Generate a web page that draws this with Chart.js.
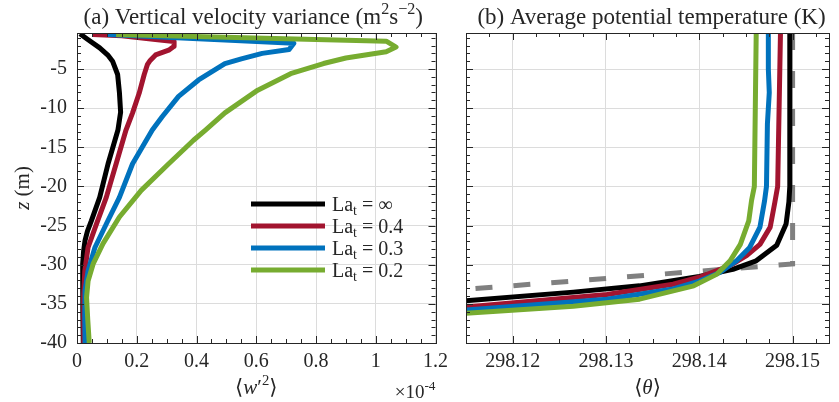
<!DOCTYPE html>
<html>
<head>
<meta charset="utf-8">
<script src="https://cdn.jsdelivr.net/npm/chart.js@4.4.1/dist/chart.umd.min.js"></script>
<style>
  body { margin: 0; background: #fff; width: 839px; height: 402px; overflow: hidden; position: relative; }
  canvas { position: absolute; top: 0; }
  #left { left: 0; }
  #right { left: 455px; }
</style>
</head>
<body>
<canvas id="left" width="455" height="402"></canvas>
<canvas id="right" width="384" height="402"></canvas>
<script>
// ---- data ----
const seriesLabels = ['\u221E', '0.4', '0.3', '0.2'];
const seriesColors = ['#000000', '#A2142F', '#0072BD', '#77AC30'];

const wTicks = [0, 0.2, 0.4, 0.6, 0.8, 1, 1.2];
const thetaTicks = [298.12, 298.13, 298.14, 298.15];
const zTicks = [-5, -10, -15, -20, -25, -30, -35, -40];

// (a) vertical velocity variance, units 1e-4
const zInfW = [-0.5, -1.2, -2.3, -3.3, -4.0, -5.7, -8.0, -10.5, -12.8, -17.1, -21.4, -24.4, -25.7, -26.9, -28.3, -29.9, -33, -36, -40];
const wInf  = [0.01, 0.035, 0.076, 0.105, 0.119, 0.136, 0.142, 0.146, 0.137, 0.104, 0.076, 0.048, 0.035, 0.027, 0.022, 0.019, 0.019, 0.02, 0.021];
const z04W = [-0.6, -0.75, -1.25, -1.5, -2.1, -2.6, -3.2, -3.9, -4.4, -5.7, -8.1, -10.6, -12.8, -17.1, -21.4, -24.8, -27.8, -30.8, -34, -37, -40];
const w04  = [0.053, 0.15, 0.27, 0.325, 0.325, 0.307, 0.263, 0.245, 0.236, 0.225, 0.208, 0.186, 0.164, 0.131, 0.098, 0.065, 0.037, 0.026, 0.022, 0.022, 0.023];
const z03W = [-0.6, -1.7, -2.5, -3.0, -3.7, -4.3, -6.4, -8.5, -11.1, -12.8, -17.1, -21.4, -24.8, -27.8, -30.8, -33.3, -36.5, -40];
const w03  = [0.104, 0.726, 0.71, 0.62, 0.55, 0.495, 0.407, 0.34, 0.285, 0.252, 0.186, 0.142, 0.098, 0.06, 0.037, 0.027, 0.026, 0.027];
const z02W = [-0.6, -1.45, -2.2, -2.8, -3.6, -4.3, -5.6, -7.7, -10.6, -12.8, -14.1, -17.1, -20.5, -23.9, -27.3, -29.9, -32.1, -34.2, -37, -40];
const w02  = [0.131, 1.035, 1.068, 1.035, 0.9, 0.825, 0.715, 0.605, 0.495, 0.43, 0.39, 0.307, 0.215, 0.142, 0.087, 0.054, 0.037, 0.032, 0.036, 0.041];

// (b) average potential temperature, K
const zInfT = [-0.4, -20, -22, -24.8, -27.5, -29.5, -30.6, -31.5, -32.7, -33.5, -34.6];
const tInf  = [298.1497, 298.1497, 298.1496, 298.1493, 298.1483, 298.1461, 298.1436, 298.1400, 298.1336, 298.1265, 298.1150];
const z04T = [-0.4, -20, -22, -25.2, -27.4, -28.8, -30.1, -31.6, -32.5, -33.8, -35.4];
const t04  = [298.1487, 298.1484, 298.1481, 298.1476, 298.1465, 298.1451, 298.1433, 298.1400, 298.1372, 298.1301, 298.1150];
const z03T = [-0.4, -5, -8, -12, -20, -21.8, -25.2, -27.8, -29.5, -31.0, -32.1, -33.1, -34.4, -35.8];
const t03  = [298.1474, 298.1474, 298.1475, 298.1473, 298.1472, 298.1470, 298.1465, 298.1454, 298.1440, 298.1422, 298.1400, 298.1372, 298.1301, 298.1150];
const z02T = [-0.4, -20, -21.8, -24.4, -27.4, -29.5, -31.2, -32.7, -34.4, -35.3, -36.2];
const t02  = [298.1461, 298.1459, 298.1456, 298.1453, 298.1444, 298.1433, 298.1419, 298.1394, 298.1336, 298.1265, 298.1150];
const zInit = [-0.4, -29.9, -33.1];
const tInit = [298.15, 298.15, 298.1155];

// ---- helpers ----
const SERIF = '"Liberation Serif", "DejaVu Serif", serif';
const INK = '#262626';

function pts(xs, zs) {
  return xs.map((x, i) => ({ x: x, y: zs[i] }));
}

function fontFor(style, size) {
  const s = (style === 'sup' || style === 'sub') ? size * 0.7 : size;
  return (style === 'i' ? 'italic ' : '') + s + 'px ' + SERIF;
}

// draws a run of text pieces, [text, style] with style '', 'i', 'sup' or 'sub'
function drawRich(ctx, parts, x, y, size, align) {
  ctx.save();
  ctx.textBaseline = 'alphabetic';
  ctx.textAlign = 'left';
  ctx.fillStyle = INK;
  let total = 0;
  const widths = parts.map(function(p) {
    ctx.font = fontFor(p[1], size);
    const w = ctx.measureText(p[0]).width;
    total += w;
    return w;
  });
  let cx = align === 'center' ? x - total / 2 : (align === 'right' ? x - total : x);
  parts.forEach(function(p, i) {
    ctx.font = fontFor(p[1], size);
    const dy = p[1] === 'sup' ? -0.42 * size : (p[1] === 'sub' ? 0.22 * size : 0);
    ctx.fillText(p[0], cx, y + dy);
    cx += widths[i];
  });
  ctx.restore();
}

function minorValues(min, max, step, majors) {
  const out = [];
  const start = Math.ceil(min / step - 1e-9);
  for (let k = start; k * step <= max + 1e-9; k++) {
    const v = k * step;
    if (!majors.some(m => Math.abs(m - v) < step * 1e-3)) out.push(v);
  }
  return out;
}

// frame, inward ticks, titles, labels and legend
const panelDecor = {
  id: 'panelDecor',
  afterDatasetsDraw(chart, args, opts) {
    const ctx = chart.ctx;
    const a = chart.chartArea;
    const xs = chart.scales.x, ys = chart.scales.y;
    ctx.save();
    ctx.strokeStyle = INK;
    ctx.lineWidth = 1;
    ctx.beginPath();
    function tickX(v, len) {
      const p = Math.round(xs.getPixelForValue(v)) + 0.5;
      ctx.moveTo(p, a.bottom); ctx.lineTo(p, a.bottom - len);
      ctx.moveTo(p, a.top); ctx.lineTo(p, a.top + len);
    }
    function tickY(v, len) {
      const p = Math.round(ys.getPixelForValue(v)) + 0.5;
      ctx.moveTo(a.left, p); ctx.lineTo(a.left + len, p);
      ctx.moveTo(a.right, p); ctx.lineTo(a.right - len, p);
    }
    opts.xMajor.forEach(v => tickX(v, 7));
    minorValues(xs.min, xs.max, opts.xMinor, opts.xMajor).forEach(v => tickX(v, 4));
    opts.yMajor.forEach(v => tickY(v, 7));
    minorValues(ys.min, ys.max, opts.yMinor, opts.yMajor).forEach(v => tickY(v, 4));
    ctx.stroke();
    ctx.strokeRect(Math.round(a.left) + 0.5, Math.round(a.top) + 0.5,
                   Math.round(a.right - a.left), Math.round(a.bottom - a.top));
    ctx.restore();

    const cx = (a.left + a.right) / 2;
    drawRich(ctx, opts.title, cx + opts.titleShift, 24, 23, 'center');
    drawRich(ctx, opts.xlabel, cx, 394, 21, 'center');

    if (opts.ylabel) {
      ctx.save();
      ctx.translate(29, (a.top + a.bottom) / 2);
      ctx.rotate(-Math.PI / 2);
      drawRich(ctx, [['z', 'i'], [' (m)', '']], 0, 0, 21, 'center');
      ctx.restore();
    }
    if (opts.exponent) {
      drawRich(ctx, [['\u00D710', ''], ['-4', 'sup']], a.right, 398, 19, 'right');
    }
    if (opts.legend) {
      seriesLabels.forEach(function(lab, i) {
        const y = 204 + i * 22;
        ctx.save();
        ctx.strokeStyle = seriesColors[i];
        ctx.lineWidth = 5;
        ctx.beginPath();
        ctx.moveTo(251, y); ctx.lineTo(325, y);
        ctx.stroke();
        ctx.restore();
        drawRich(ctx, [['La', ''], ['t', 'sub'], [' = ' + lab, '']], 332, y + 7, 20, 'left');
      });
    }
  }
};

function lineSet(data, color, order) {
  return {
    data: data,
    showLine: true,
    borderColor: color,
    borderWidth: 5,
    pointRadius: 0,
    tension: 0,
    borderJoinStyle: 'round',
    order: order
  };
}

function baseOptions(xMin, xMax, xTicks, yWidth, rightPad, fmt, showY, decor) {
  return {
    responsive: false,
    animation: false,
    layout: { padding: { top: 33, right: rightPad, left: 0, bottom: 0 } },
    plugins: { legend: { display: false }, tooltip: { enabled: false }, panelDecor: decor },
    scales: {
      x: {
        type: 'linear', min: xMin, max: xMax,
        afterBuildTicks: s => { s.ticks = xTicks.map(v => ({ value: v })); },
        afterFit: s => { s.height = 59; },
        grid: { color: '#dcdcdc', lineWidth: 1, drawTicks: false },
        border: { display: false },
        ticks: { padding: 7, color: INK, font: { family: SERIF, size: 20 }, maxRotation: 0, callback: fmt }
      },
      y: {
        type: 'linear', min: -40, max: -0.4,
        afterBuildTicks: s => { s.ticks = zTicks.map(v => ({ value: v })); },
        afterFit: s => { s.width = yWidth; },
        grid: { color: '#dcdcdc', lineWidth: 1, drawTicks: false },
        border: { display: false },
        ticks: { display: showY, padding: 10, color: INK, font: { family: SERIF, size: 20 } }
      }
    }
  };
}

new Chart(document.getElementById('left'), {
  type: 'scatter',
  data: {
    datasets: [
      lineSet(pts(wInf, zInfW), seriesColors[0], 3),
      lineSet(pts(w04, z04W), seriesColors[1], 2),
      lineSet(pts(w03, z03W), seriesColors[2], 1),
      lineSet(pts(w02, z02W), seriesColors[3], 0)
    ]
  },
  options: baseOptions(0, 1.2, wTicks, 77, 14, v => String(+v.toFixed(1)), true, {
    title: [['(a) Vertical velocity variance (m', ''], ['2', 'sup'], ['s', ''], ['\u22122', 'sup'], [')', '']],
    titleShift: -3,
    xlabel: [['\u27E8', ''], ['w', 'i'], ['\u2032', ''], ['2', 'sup'], ['\u27E9', '']],
    ylabel: true, exponent: true, legend: true,
    xMajor: wTicks, xMinor: 0.05, yMajor: zTicks, yMinor: 1
  }),
  plugins: [panelDecor]
});

const initLine = lineSet(pts(tInit, zInit), '#808080', 4);
initLine.borderDash = [17, 21];
initLine.borderJoinStyle = 'miter';

new Chart(document.getElementById('right'), {
  type: 'scatter',
  data: {
    datasets: [
      lineSet(pts(tInf, zInfT), seriesColors[0], 3),
      lineSet(pts(t04, z04T), seriesColors[1], 2),
      lineSet(pts(t03, z03T), seriesColors[2], 1),
      lineSet(pts(t02, z02T), seriesColors[3], 0),
      initLine
    ]
  },
  options: baseOptions(298.115, 298.1539, thetaTicks, 11, 10, v => v.toFixed(2), false, {
    title: [['(b) Average potential temperature (K)', '']],
    titleShift: 4,
    xlabel: [['\u27E8', ''], ['\u03B8', 'i'], ['\u27E9', '']],
    ylabel: false, exponent: false, legend: false,
    xMajor: thetaTicks, xMinor: 0.0025, yMajor: zTicks, yMinor: 1
  }),
  plugins: [panelDecor]
});
</script>
</body>
</html>
